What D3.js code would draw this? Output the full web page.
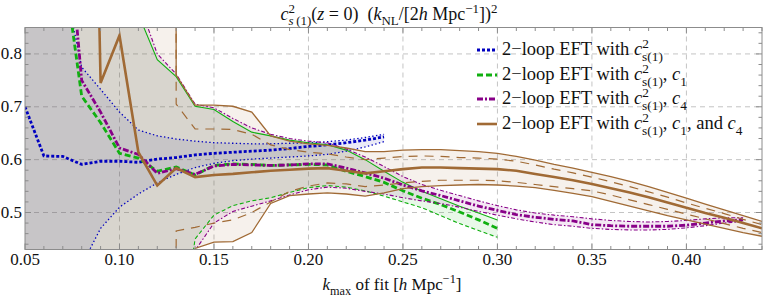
<!DOCTYPE html>
<html lang="en">
<head>
<meta charset="UTF-8">
<script src="https://d3js.org/d3.v7.min.js"></script>
<style>
  body { margin: 0; background: #fff; }
  svg { display: block; font-family: "Liberation Serif", "DejaVu Serif", serif; }
  text { white-space: pre; }
</style>
</head>
<body>
<svg id="chart" width="763" height="298"></svg>
<script>
// k_max of fit, one entry per 0.01
var kAll = [0.05, 0.06, 0.07, 0.08, 0.09, 0.10, 0.11, 0.12, 0.13, 0.14,
            0.15, 0.16, 0.17, 0.18, 0.19, 0.20, 0.21, 0.22, 0.23, 0.24,
            0.25, 0.26, 0.27, 0.28, 0.29, 0.30, 0.31, 0.32, 0.33, 0.34,
            0.35, 0.36, 0.37, 0.38, 0.39, 0.40, 0.41, 0.42, 0.43, 0.44];

// 2-loop EFT with cs(1)^2  (0.05 .. 0.24)
var blueMid = [0.700, 0.607, 0.606, 0.591, 0.597, 0.597, 0.595, 0.601, 0.604, 0.609,
               0.612, 0.614, 0.616, 0.618, 0.621, 0.625, 0.628, 0.632, 0.637, 0.643];
var blueHi  = [2.5, 1.5, 0.95, 0.775, 0.733, 0.690, 0.656, 0.645, 0.639, 0.635,
               0.632, 0.631, 0.630, 0.630, 0.631, 0.632, 0.634, 0.637, 0.642, 0.648];
var blueLo  = [-1.5, -0.3, 0.25, 0.40, 0.47, 0.51, 0.535, 0.556, 0.572, 0.585,
               0.593, 0.598, 0.601, 0.603, 0.605, 0.607, 0.610, 0.616, 0.624, 0.634];

// with cs(1)^2, c1  (0.05 .. 0.30)
var greenMid = [2.5, 1.6, 0.98, 0.72, 0.67, 0.612, 0.603, 0.578, 0.586, 0.571,
                0.589, 0.592, 0.591, 0.589, 0.590, 0.591, 0.590, 0.578, 0.568, 0.557,
                0.541, 0.527, 0.515, 0.501, 0.486, 0.470];
var greenHi  = [3, 3, 3, 3, 3, 1.6, 0.875, 0.789, 0.757, 0.701,
                0.695, 0.672, 0.652, 0.645, 0.637, 0.632, 0.628, 0.618, 0.600, 0.578,
                0.557, 0.540, 0.526, 0.512, 0.499, 0.486];
var greenLo  = [-2, -2, -2, -2, -2, -2, -2, -1, 0.2, 0.45,
                0.495, 0.513, 0.522, 0.528, 0.538, 0.547, 0.551, 0.548, 0.541, 0.531,
                0.520, 0.509, 0.494, 0.479, 0.466, 0.453];

// with cs(1)^2, c4  (0.05 .. 0.43)
var purpleMid = [3, 2, 1.15, 0.75, 0.69, 0.622, 0.61, 0.574, 0.583, 0.572,
                 0.588, 0.591, 0.590, 0.589, 0.590, 0.592, 0.592, 0.584, 0.575, 0.565,
                 0.552, 0.541, 0.532, 0.522, 0.512, 0.504, 0.496, 0.491, 0.487, 0.484,
                 0.477, 0.475, 0.474, 0.474, 0.474, 0.476, 0.480, 0.484, 0.486];
var purpleHi  = [3, 3, 3, 3, 3, 1.8, 0.90, 0.80, 0.762, 0.705,
                 0.698, 0.678, 0.660, 0.648, 0.640, 0.635, 0.632, 0.620, 0.605, 0.587,
                 0.568, 0.553, 0.542, 0.532, 0.522, 0.513, 0.505, 0.499, 0.495, 0.492,
                 0.488, 0.485, 0.483, 0.482, 0.483, 0.485, 0.488, 0.490, 0.490];
var purpleLo  = [-2, -2, -2, -2, -2, -2, -2, -1, 0.2, 0.428,
                 0.480, 0.502, 0.512, 0.522, 0.533, 0.543, 0.548, 0.546, 0.540, 0.535,
                 0.528, 0.522, 0.517, 0.510, 0.502, 0.495, 0.488, 0.482, 0.477, 0.474,
                 0.470, 0.468, 0.467, 0.467, 0.468, 0.471, 0.475, 0.480, 0.483];

// with cs(1)^2, c1 and c4  (0.05 .. 0.44)
var brownMid  = [3, 3, 3, 2.5, 0.745, 0.835, 0.614, 0.551, 0.584, 0.567,
                 0.571, 0.573, 0.576, 0.579, 0.581, 0.583, 0.584, 0.579, 0.574, 0.578,
                 0.582, 0.585, 0.585, 0.584, 0.583, 0.582, 0.579, 0.573, 0.567, 0.561,
                 0.554, 0.546, 0.538, 0.529, 0.519, 0.509, 0.499, 0.490, 0.480, 0.470];
var brownHi   = [40, 40, 40, 40, 40, 40, 40, 40, 0.760, 0.703,
                 0.703, 0.701, 0.690, 0.645, 0.635, 0.630, 0.627, 0.622, 0.615, 0.615,
                 0.618, 0.619, 0.619, 0.617, 0.615, 0.612, 0.606, 0.599, 0.591, 0.584,
                 0.576, 0.568, 0.559, 0.549, 0.538, 0.527, 0.516, 0.505, 0.494, 0.483];
var brownHiIn = [40, 40, 40, 40, 40, 40, 40, 40, 0.705, 0.658,
                 0.658, 0.657, 0.648, 0.628, 0.619, 0.614, 0.611, 0.605, 0.600, 0.603,
                 0.606, 0.607, 0.606, 0.604, 0.603, 0.601, 0.597, 0.590, 0.582, 0.575,
                 0.567, 0.558, 0.549, 0.539, 0.529, 0.518, 0.508, 0.498, 0.487, 0.477];
var brownLoIn = [-40, -40, -40, -40, -40, -40, -40, -40, 0.465, 0.472,
                 0.480, 0.486, 0.500, 0.520, 0.540, 0.550, 0.556, 0.554, 0.549, 0.552,
                 0.556, 0.559, 0.561, 0.561, 0.561, 0.560, 0.557, 0.553, 0.549, 0.545,
                 0.541, 0.533, 0.524, 0.515, 0.506, 0.497, 0.488, 0.479, 0.470, 0.462];
var brownLo   = [-40, -40, -40, -40, -40, -40, -40, -40, -40, 0.432,
                 0.444, 0.445, 0.462, 0.517, 0.532, 0.535, 0.537, 0.535, 0.531, 0.537,
                 0.545, 0.549, 0.551, 0.552, 0.553, 0.552, 0.550, 0.547, 0.542, 0.536,
                 0.530, 0.521, 0.512, 0.503, 0.494, 0.486, 0.478, 0.470, 0.462, 0.455];

var xTicks = [0.05, 0.10, 0.15, 0.20, 0.25, 0.30, 0.35, 0.40];
var yTicks = [0.5, 0.6, 0.7, 0.8];

var svg = d3.select("#chart");
var mLeft = 25, mRight = 762, mTop = 27.5, mBottom = 249.5;
var FS = 17;

var x = d3.scaleLinear().domain([0.05, 0.44]).range([mLeft, mRight]);
var y = d3.scaleLinear().domain([0.43, 0.85]).range([mBottom, mTop]);

var blueC = "#0000c0", greenC = "#10b010", purpleC = "#880088", brownC = "#a06a35";

function rows(n, mid, hi, lo) {
    return kAll.slice(0, n).map(function (k, i) {
        return { k: k, mid: mid[i], hi: hi[i], lo: lo[i] };
    });
}

var blue = rows(blueMid.length, blueMid, blueHi, blueLo);
var green = rows(greenMid.length, greenMid, greenHi, greenLo);
var purple = rows(purpleMid.length, purpleMid, purpleHi, purpleLo);
var brown = kAll.map(function (k, i) {
    return { k: k, mid: brownMid[i], hi: brownHi[i], hiIn: brownHiIn[i], loIn: brownLoIn[i], lo: brownLo[i] };
});

svg.append("defs").append("clipPath").attr("id", "plotClip")
    .append("rect")
    .attr("x", mLeft).attr("y", mTop)
    .attr("width", mRight - mLeft).attr("height", mBottom - mTop);

// grid
var grid = svg.append("g");
grid.selectAll(".gx").data(xTicks.slice(1)).enter().append("line")
    .attr("x1", function (d) { return x(d); }).attr("x2", function (d) { return x(d); })
    .attr("y1", mTop).attr("y2", mBottom)
    .attr("stroke", "#c4c4c4").attr("stroke-dasharray", "5,4");
grid.selectAll(".gy").data(yTicks).enter().append("line")
    .attr("y1", function (d) { return y(d); }).attr("y2", function (d) { return y(d); })
    .attr("x1", mLeft).attr("x2", mRight)
    .attr("stroke", "#c4c4c4").attr("stroke-dasharray", "5,4");

var plot = svg.append("g").attr("clip-path", "url(#plotClip)");

function band(data, lo, hi, color, op) {
    var area = d3.area()
        .x(function (d) { return x(d.k); })
        .y0(function (d) { return y(d[lo]); })
        .y1(function (d) { return y(d[hi]); });
    plot.append("path").datum(data)
        .attr("d", area)
        .attr("fill", color).attr("fill-opacity", op);
}

function curve(data, key, color, width, dash) {
    var line = d3.line()
        .x(function (d) { return x(d.k); })
        .y(function (d) { return y(d[key]); });
    plot.append("path").datum(data)
        .attr("d", line)
        .attr("fill", "none")
        .attr("stroke", color)
        .attr("stroke-width", width)
        .attr("stroke-dasharray", dash || null);
}

band(blue, "lo", "hi", "#3030b0", 0.1);
band(green, "lo", "hi", "#00b400", 0.09);
band(purple, "lo", "hi", "#800080", 0.09);
band(brown, "lo", "hi", "#99662f", 0.09);

var thin = 1.1, thick = 2.8;
var styles = {
    blue: { mid: "3,2", bound: "1.4,2.4" },
    green: { mid: "6,3", bound: "4,2.5" },
    purple: { mid: "6,2,2,2", bound: "4,2,1.5,2" }
};

curve(blue, "hi", blueC, 1.3, styles.blue.bound);
curve(blue, "lo", blueC, 1.3, styles.blue.bound);
curve(blue, "mid", blueC, thick, styles.blue.mid);

curve(green, "hi", greenC, thin, null);
curve(green, "lo", greenC, thin, styles.green.bound);
curve(green, "mid", greenC, thick, styles.green.mid);

curve(purple, "hi", purpleC, thin, styles.purple.bound);
curve(purple, "lo", purpleC, thin, styles.purple.bound);
curve(purple, "mid", purpleC, thick, styles.purple.mid);

curve(brown, "hi", brownC, 1.3, null);
curve(brown, "lo", brownC, 1.3, null);
curve(brown, "hiIn", brownC, 1.2, "9,7");
curve(brown, "loIn", brownC, 1.2, "9,7");
curve(brown, "mid", brownC, 2.6, null);

// frame and ticks
var axisC = "#8c8c8c";
svg.append("rect")
    .attr("x", mLeft).attr("y", mTop)
    .attr("width", mRight - mLeft).attr("height", mBottom - mTop)
    .attr("fill", "none").attr("stroke", axisC).attr("stroke-width", 1);

var ax = svg.append("g").attr("stroke", axisC).attr("stroke-width", 1);
var xMinor = d3.range(5, 45).map(function (v) { return v / 100; });
xMinor.forEach(function (v) {
    var major = Math.round(v * 100) % 5 === 0;
    var len = major ? 6 : 3.5;
    ax.append("line").attr("x1", x(v)).attr("x2", x(v)).attr("y1", mBottom).attr("y2", mBottom - len);
    ax.append("line").attr("x1", x(v)).attr("x2", x(v)).attr("y1", mTop).attr("y2", mTop + len);
});
var yMinor = d3.range(22, 43).map(function (v) { return v / 50; });
yMinor.forEach(function (v) {
    var major = Math.round(v * 50) % 5 === 0;
    var len = major ? 6 : 3.5;
    ax.append("line").attr("y1", y(v)).attr("y2", y(v)).attr("x1", mLeft).attr("x2", mLeft + len);
    ax.append("line").attr("y1", y(v)).attr("y2", y(v)).attr("x1", mRight).attr("x2", mRight - len);
});

svg.append("g").selectAll("text").data(xTicks).enter().append("text")
    .attr("x", function (d) { return x(d); })
    .attr("y", 265)
    .attr("text-anchor", "middle")
    .attr("font-size", FS)
    .attr("fill", "#111")
    .text(function (d) { return d.toFixed(2); });

svg.append("g").selectAll("text").data(yTicks).enter().append("text")
    .attr("x", 22)
    .attr("y", function (d) { return y(d) + 5.5; })
    .attr("text-anchor", "end")
    .attr("font-size", FS)
    .attr("fill", "#111")
    .text(function (d) { return d.toFixed(1); });

// rich text with sub/superscripts
function rich(g, px, py, anchor, size, parts) {
    var t = g.append("text").attr("x", px).attr("y", py)
        .attr("text-anchor", anchor).attr("font-size", size).attr("fill", "#111");
    var off = { "0": 0, "1": -0.4 * size, "-1": 0.3 * size };
    var cur = 0;
    parts.forEach(function (p) {
        var lvl = p.l || 0;
        var ts = t.append("tspan").text(p.t);
        var want = off[lvl];
        if (want !== cur) ts.attr("dy", want - cur);
        cur = want;
        if (lvl !== 0) ts.attr("font-size", size * 0.72);
        if (p.i) ts.attr("font-style", "italic");
        if (p.back) ts.attr("dx", -p.back * size * 0.72);
    });
    return t;
}

// title
rich(svg, 389, 20, "middle", 18, [
    { t: "c", i: 1 }, { t: "2", l: 1 }, { t: "s", i: 1, l: -1, back: 0.5 }, { t: "\u2009(1)", l: -1 },
    { t: "(" }, { t: "z", i: 1 }, { t: " = 0)  (" }, { t: "k", i: 1 }, { t: "NL", l: -1 },
    { t: "/[2" }, { t: "h", i: 1 }, { t: " Mpc" }, { t: "\u22121", l: 1 }, { t: "])" }, { t: "2", l: 1 }
]);

// x label
rich(svg, 392, 290, "middle", FS, [
    { t: "k", i: 1 }, { t: "max", l: -1 }, { t: " of fit [" }, { t: "h", i: 1 }, { t: " Mpc" },
    { t: "\u22121", l: 1 }, { t: "]" }
]);

// legend
var legendItems = [
    { c: blueC, w: thick, dash: styles.blue.mid, extra: [] },
    { c: greenC, w: thick, dash: styles.green.mid, extra: [{ t: ", " }, { t: "c", i: 1 }, { t: "1", l: -1 }] },
    { c: purpleC, w: thick, dash: styles.purple.mid, extra: [{ t: ", " }, { t: "c", i: 1 }, { t: "4", l: -1 }] },
    { c: brownC, w: 2.6, dash: null, extra: [{ t: ", " }, { t: "c", i: 1 }, { t: "1", l: -1 },
        { t: ", and " }, { t: "c", i: 1 }, { t: "4", l: -1 }] }
];
var legendY = [50, 75, 99, 124];
var lg = svg.append("g");
legendItems.forEach(function (it, i) {
    lg.append("line")
        .attr("x1", 477).attr("x2", 497)
        .attr("y1", legendY[i]).attr("y2", legendY[i])
        .attr("stroke", it.c).attr("stroke-width", it.w)
        .attr("stroke-dasharray", it.dash);
    rich(lg, 502, legendY[i] + 5, "start", 18.5, [
        { t: "2\u2212loop EFT with " }, { t: "c", i: 1 }, { t: "2", l: 1 }, { t: "s(1)", l: -1, back: 0.5 }
    ].concat(it.extra));
});
</script>
</body>
</html>
